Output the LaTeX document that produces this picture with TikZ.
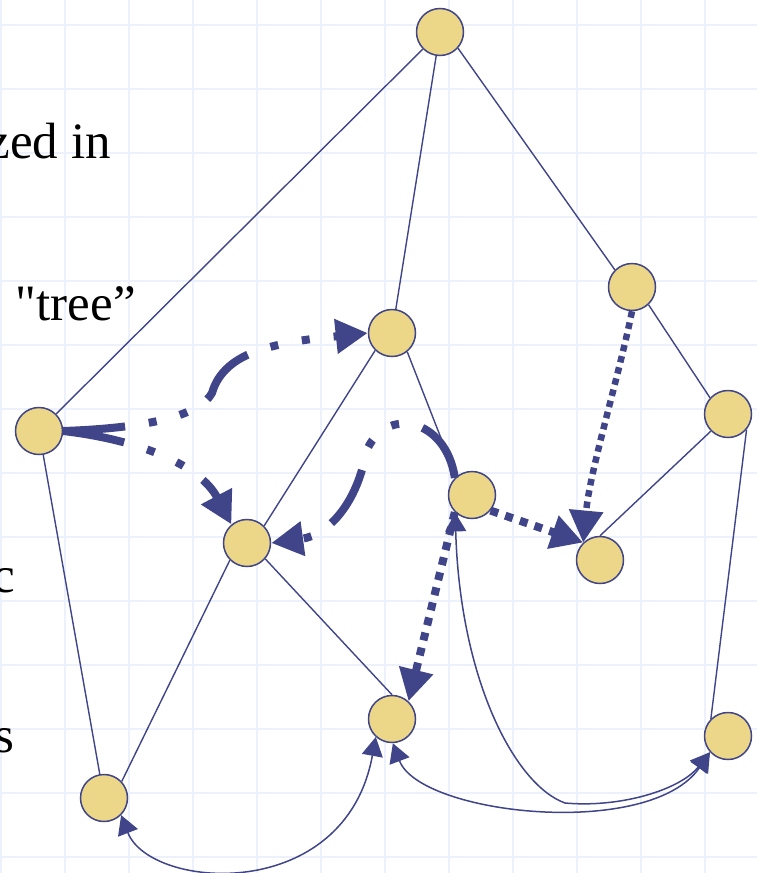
\documentclass[tikz,border=0pt]{standalone}
\usepackage{fontspec}
\newfontfamily\folienschrift{Liberation Serif}
\usetikzlibrary{arrows.meta}

\definecolor{graphblau}{RGB}{64,68,137}
\definecolor{knotengelb}{RGB}{235,215,135}
\definecolor{rasterblau}{RGB}{237,241,252}

\tikzset{
  knoten/.style={circle, draw=graphblau, fill=knotengelb, line width=1.5pt, minimum size=47pt, inner sep=0pt},
  kante/.style={draw=graphblau, line width=1.4pt},
  antwort/.style={draw=graphblau, line width=1.5pt, {Triangle[length=19pt,width=21pt]}-{Triangle[length=19pt,width=21pt]}},
  suche/.style={draw=graphblau, line width=8pt, dash pattern=on 62pt off 24pt on 8pt off 24pt on 8pt off 24pt, -{Triangle[length=32pt,width=33pt]}},
  punkte/.style={draw=graphblau, line width=8pt, dash pattern=on 8pt off 7.5pt, -{Triangle[length=32pt,width=33pt]}},
  schrift/.style={font=\folienschrift\fontsize{51}{60}\selectfont, inner sep=0pt, anchor=base east}
}

\begin{document}
\begin{tikzpicture}[x=1pt,y=-1pt]
		\useasboundingbox (0,0) rectangle (757,873);
		\clip (0,0) rectangle (757,873);

		% Hintergrundraster der Folie
		\foreach \x in {1,65,...,705} \draw[rasterblau, line width=1.8pt] (\x,0) -- (\x,873);
		\foreach \y in {25,89,...,857} \draw[rasterblau, line width=1.8pt] (0,\y) -- (757,\y);

		% angeschnittener Folientext am linken Rand
		\node[schrift] (zeile1) at (111,158) {zed in};
		\node[schrift] (zeile2) at (136,320) {"tree”};
		\node[schrift] (zeile3) at (15,592) {c};
		\node[schrift] (zeile4) at (15,752) {s};

		% Knoten des Graphen
		\node[knoten] (a) at (440,32)  {};
		\node[knoten] (b) at (632,287) {};
		\node[knoten] (c) at (392,333) {};
		\node[knoten] (d) at (39,431)  {};
		\node[knoten] (e) at (728,414) {};
		\node[knoten] (f) at (472,495) {};
		\node[knoten] (g) at (247,543) {};
		\node[knoten] (h) at (600,560) {};
		\node[knoten] (i) at (392,719) {};
		\node[knoten] (j) at (728,736) {};
		\node[knoten] (k) at (104,798) {};

		% Kanten
		\draw[kante] (a) -- (d);
		\draw[kante] (a) -- (c);
		\draw[kante] (a.-42) -- (b.135);
		\draw[kante] (b.-47) -- (e.138);
		\draw[kante] (c.226) -- (g.45);
		\draw[kante] (c.-51) -- (f.131);
		\draw[kante] (d) -- (k);
		\draw[kante] (g.225) -- (k.43);
		\draw[kante] (g.-41) -- (i.90);
		\draw[kante] (e.225) -- (h.90);
		\draw[kante] (e.-40) -- (j.135);

		% Suchpfeile (Strich-Punkt-Punkt)
		\draw[suche] (d.east) .. controls (150,428) and (200,415) .. (212,393)
			.. controls (218,372) and (235,358) .. (260,350)
			.. controls (290,340) and (330,337) .. (c.west);
		\draw[suche] (d.east) .. controls (140,440) and (200,465) .. (g.130);
		\draw[suche] (f.135) .. controls (446,418) and (385,405) .. (366,452)
			.. controls (358,500) and (330,535) .. (g.east);

		% gepunktete Pfeile
		\draw[punkte, line width=6.5pt, dash pattern=on 6.5pt off 5pt] (b.south) .. controls (618,380) and (590,470) .. (h.134);
		\draw[punkte] (f.-40) -- (h.134);
		\draw[punkte] (f.225) -- (i.47);

		% duenne Rueckmeldungen
		\draw[antwort] (k.-45) .. controls (150,890) and (345,905) .. (i.228);
		\draw[antwort] (i.-88) .. controls (420,815) and (650,840) .. (j.222);
		\draw[antwort] (f.226) .. controls (460,680) and (515,785) .. (565,803)
			.. controls (620,808) and (680,790) .. (j.222);
	\end{tikzpicture}
\end{document}
